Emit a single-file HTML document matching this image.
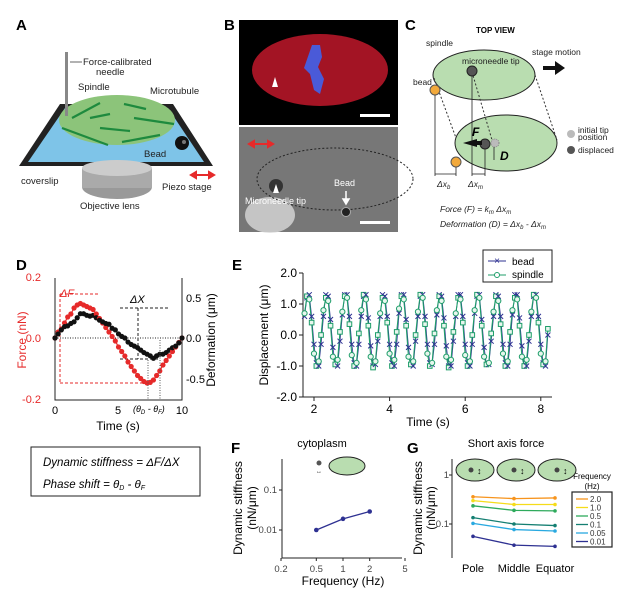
<!DOCTYPE html>
<html><head><meta charset="utf-8"><style>
html,body{margin:0;padding:0;background:#fff}
svg{display:block;font-family:"Liberation Sans",Arial,sans-serif}
</style></head><body>
<svg id="fig" width="627" height="592" viewBox="0 0 627 592" xmlns="http://www.w3.org/2000/svg">
<rect width="627" height="592" fill="#fff"/>
<!-- Panel A -->
<g>
<text x="16" y="30" font-size="15" font-weight="bold">A</text>
<polygon points="60,104 173,104 213,166 19,166" fill="#222"/>
<polygon points="65,108 168,108 204,162 28,162" fill="#7ec4e8"/>
<ellipse cx="117" cy="187" rx="35" ry="12" fill="#999"/>
<rect x="82" y="168" width="70" height="20" fill="#aaa"/>
<ellipse cx="117" cy="168" rx="35" ry="8" fill="#ccc"/>
<ellipse cx="117" cy="120" rx="58" ry="25" fill="#8cc47a"/>
<g stroke="#1e8a3e" stroke-width="2.2"><line x1="72" y1="118" x2="100" y2="103"/><line x1="90" y1="118" x2="110" y2="114"/><line x1="124" y1="104" x2="146" y2="109"/><line x1="134" y1="118" x2="174" y2="124"/><line x1="62" y1="128" x2="108" y2="145"/><line x1="100" y1="128" x2="130" y2="131"/><line x1="122" y1="142" x2="160" y2="135"/></g>
<circle cx="182" cy="143" r="7" fill="#111"/><circle cx="184" cy="142" r="2" fill="#777"/>
<rect x="65" y="52" width="3" height="64" fill="#888"/>
<g font-size="9.5" fill="#222"><text x="83" y="65">Force-calibrated</text><text x="96" y="75">needle</text><text x="78" y="90">Spindle</text><text x="150" y="94">Microtubule</text><text x="144" y="157">Bead</text><text x="21" y="184">coverslip</text><text x="162" y="190">Piezo stage</text><text x="80" y="209">Objective lens</text></g>
<line x1="70" y1="62" x2="82" y2="62" stroke="#222" stroke-width="0.7"/>
<path d="M193,175 L212,175 M191,175 l5,-3 v6z M214,175 l-5,-3 v6z" stroke="#e62a2a" stroke-width="2" fill="#e62a2a"/>
</g>
<!-- Panel B -->
<g>
<text x="224" y="30" font-size="15" font-weight="bold">B</text>
<rect x="239" y="20" width="159" height="105" fill="#000"/>
<ellipse cx="320" cy="70" rx="68" ry="36" fill="#c0182a" opacity="0.85"/>
<path d="M312,45 l8,0 l2,12 l-4,10 l6,12 l-4,15 l-6,-4 l-4,-16 l-6,-6z" fill="#4a5ad8"/>
<polygon points="272,87 278,87 275,77" fill="#fff"/>
<rect x="360" y="114" width="30" height="3" fill="#fff"/>
<rect x="239" y="127" width="159" height="105" fill="#777"/>
<ellipse cx="270" cy="215" rx="25" ry="18" fill="#d8d8d8" opacity="0.8"/>
<ellipse cx="335" cy="179" rx="78" ry="31" fill="none" stroke="#222" stroke-dasharray="2,2"/>
<circle cx="276" cy="186" r="7" fill="#333"/><polygon points="273,193 279,193 276,184" fill="#fff"/>
<circle cx="346" cy="212" r="4.5" fill="#222" stroke="#aaa"/>
<g font-size="9" fill="#fff"><text x="245" y="204">Microneedle tip</text><text x="334" y="186">Bead</text></g>
<path d="M346,191 v10 M343,199 l3,5 l3,-5z" stroke="#fff" fill="#fff" stroke-width="1.5"/>
<path d="M251,144 L271,144 M249,144 l5,-3 v6z M273,144 l-5,-3 v6z" stroke="#e62a2a" stroke-width="2" fill="#e62a2a"/>
<rect x="360" y="221" width="30" height="3" fill="#fff"/>
</g>
<!-- Panel C -->
<g>
<text x="405" y="30" font-size="15" font-weight="bold">C</text>
<text x="476" y="33" font-size="8" font-weight="bold">TOP VIEW</text>
<ellipse cx="484" cy="75" rx="51" ry="25" fill="#b9ddb0" stroke="#222"/>
<ellipse cx="506" cy="143" rx="51" ry="28" fill="#b9ddb0" stroke="#222"/>
<g stroke="#333" stroke-dasharray="2,2"><line x1="434" y1="78" x2="456" y2="138"/><line x1="535" y1="75" x2="557" y2="140"/><line x1="472" y1="72" x2="492" y2="140"/></g>
<circle cx="472" cy="71" r="5" fill="#555" stroke="#222"/>
<circle cx="435" cy="90" r="5" fill="#f2a93b" stroke="#555"/>
<circle cx="456" cy="162" r="5" fill="#f2a93b" stroke="#555"/>
<circle cx="485" cy="144" r="5" fill="#555" stroke="#222"/>
<circle cx="495" cy="143" r="4" fill="#bbb" stroke="#888" stroke-dasharray="1,1"/>
<g stroke="#222" stroke-width="0.8"><line x1="435" y1="95" x2="435" y2="176"/><line x1="456" y1="167" x2="456" y2="176"/><line x1="472" y1="76" x2="472" y2="176"/><line x1="485" y1="149" x2="485" y2="176"/><line x1="494" y1="147" x2="494" y2="160"/><line x1="435" y1="174" x2="456" y2="174"/><line x1="472" y1="174" x2="485" y2="174"/></g>
<path d="M463,143 l14,-4 v8z" fill="#111"/><rect x="470" y="141" width="12" height="4" fill="#111"/>
<path d="M543,66 h12 v-5 l10,7 l-10,7 v-5 h-12z" fill="#111"/>
<circle cx="571" cy="134" r="4" fill="#bbb"/><circle cx="571" cy="150" r="4" fill="#555"/>
<g font-size="8.5" fill="#222"><text x="426" y="46">spindle</text><text x="462" y="64">microneedle tip</text><text x="532" y="55">stage motion</text><text x="413" y="85">bead</text><text x="578" y="133">initial tip</text><text x="578" y="140">position</text><text x="578" y="153">displaced</text><text x="437" y="187" font-style="italic">Δx<tspan font-size="6" dy="2">b</tspan></text><text x="468" y="187" font-style="italic">Δx<tspan font-size="6" dy="2">m</tspan></text><text x="440" y="212" font-style="italic">Force (F) = k<tspan font-size="6" dy="2">m</tspan><tspan dy="-2"> Δx</tspan><tspan font-size="6" dy="2">m</tspan></text><text x="440" y="227" font-style="italic">Deformation (D) = Δx<tspan font-size="6" dy="2">b</tspan><tspan dy="-2"> - Δx</tspan><tspan font-size="6" dy="2">m</tspan></text></g>
<text x="472" y="136" font-size="12" font-weight="bold" font-style="italic">F</text>
<text x="500" y="160" font-size="12" font-weight="bold" font-style="italic">D</text>
</g>
<!-- Panel D -->
<g id="pd">
<text x="16" y="270" font-size="15" font-weight="bold">D</text>
<g font-size="11"><text x="41" y="281" fill="#e62a2a" text-anchor="end">0.2</text><text x="41" y="342" fill="#e62a2a" text-anchor="end">0.0</text><text x="41" y="403" fill="#e62a2a" text-anchor="end">-0.2</text>
<text x="186" y="302">0.5</text><text x="186" y="342">0.0</text><text x="186" y="383">-0.5</text>
<text x="55" y="414" text-anchor="middle">0</text><text x="118" y="414" text-anchor="middle">5</text><text x="182" y="414" text-anchor="middle">10</text>
<text x="118" y="430" text-anchor="middle" font-size="12">Time (s)</text>
<text transform="translate(26,340) rotate(-90)" text-anchor="middle" fill="#e62a2a" font-size="12">Force (nN)</text>
<text transform="translate(215,340) rotate(-90)" text-anchor="middle" font-size="12">Deformation (μm)</text>
<text x="60" y="297" fill="#e62a2a" font-style="italic">ΔF</text><text x="130" y="303" font-style="italic">ΔX</text>
<text x="133" y="412" font-size="9" font-style="italic">(θ<tspan font-size="6" dy="2">D</tspan><tspan dy="-2"> - θ</tspan><tspan font-size="6" dy="2">F</tspan><tspan dy="-2">)</tspan></text></g>
</g>
<g>
<rect x="31" y="447" width="169" height="49" fill="#fff" stroke="#222"/>
<text x="43" y="466" font-size="11.5" font-style="italic">Dynamic stiffness = ΔF/ΔX</text>
<text x="43" y="488" font-size="11.5" font-style="italic">Phase shift = θ<tspan font-size="7" dy="2">D</tspan><tspan dy="-2"> - θ</tspan><tspan font-size="7" dy="2">F</tspan></text>
</g>
<!-- Panel E -->
<g id="pe">
<text x="232" y="270" font-size="15" font-weight="bold">E</text>
<text transform="translate(268,335) rotate(-90)" text-anchor="middle" font-size="12">Displacement (μm)</text>
<text x="428" y="426" text-anchor="middle" font-size="12">Time (s)</text>
<g>
<rect x="483" y="250" width="69" height="32" fill="#fff" stroke="#222"/>
<line x1="488" y1="261" x2="506" y2="261" stroke="#2e3192"/><text x="497" y="264" font-size="10" fill="#2e3192" text-anchor="middle">×</text><text x="512" y="265" font-size="10">bead</text>
<line x1="488" y1="275" x2="506" y2="275" stroke="#1f9e6a"/><circle cx="497" cy="275" r="2.5" fill="#fff" stroke="#1f9e6a"/><text x="512" y="278" font-size="10">spindle</text>
</g>
</g>
<!-- Panel F -->
<g id="pf">
<text x="231" y="453" font-size="15" font-weight="bold">F</text>
<text x="322" y="447" font-size="11" text-anchor="middle">cytoplasm</text>
<ellipse cx="347" cy="466" rx="18" ry="9" fill="#b9ddb0" stroke="#222"/>
<circle cx="319" cy="463" r="2.5" fill="#555"/><text x="319" y="473" font-size="6" text-anchor="middle">↔</text>
<text transform="translate(242,508) rotate(-90)" text-anchor="middle" font-size="12">Dynamic stiffness</text>
<text transform="translate(256,508) rotate(-90)" text-anchor="middle" font-size="12">(nN/μm)</text>
<text x="343" y="585" text-anchor="middle" font-size="12">Frequency (Hz)</text>
</g>
<!-- Panel G -->
<g id="pg">
<text x="407" y="453" font-size="15" font-weight="bold">G</text>
<text x="506" y="447" font-size="11" text-anchor="middle">Short axis force</text>
<text transform="translate(422,508) rotate(-90)" text-anchor="middle" font-size="12">Dynamic stiffness</text>
<text transform="translate(435,508) rotate(-90)" text-anchor="middle" font-size="12">(nN/μm)</text>
<g><text x="592" y="479" font-size="8" text-anchor="middle">Frequency</text><text x="592" y="489" font-size="8" text-anchor="middle">(Hz)</text>
<rect x="572" y="492" width="40" height="55" fill="#fff" stroke="#222" stroke-width="1.2"/></g>
</g>
<script>
// Panel D data
var dTime=[0,0.25,0.5,0.75,1,1.25,1.5,1.75,2,2.25,2.5,2.75,3,3.25,3.5,3.75,4,4.25,4.5,4.75,5,5.25,5.5,5.75,6,6.25,6.5,6.75,7,7.25,7.5,7.75,8,8.25,8.5,8.75,9,9.25,9.5,9.75,10];
var dForce=[0,0.02,0.03,0.05,0.07,0.08,0.1,0.11,0.115,0.11,0.105,0.1,0.095,0.08,0.065,0.05,0.035,0.02,0.005,-0.01,-0.03,-0.045,-0.06,-0.08,-0.095,-0.11,-0.125,-0.135,-0.145,-0.15,-0.148,-0.14,-0.125,-0.11,-0.09,-0.075,-0.06,-0.045,-0.03,-0.015,0];
var dDeform=[0,0.05,0.1,0.14,0.15,0.18,0.2,0.25,0.3,0.3,0.28,0.27,0.28,0.25,0.22,0.2,0.18,0.17,0.12,0.1,0.05,0.02,0,-0.05,-0.08,-0.1,-0.12,-0.15,-0.18,-0.2,-0.22,-0.25,-0.22,-0.2,-0.2,-0.18,-0.15,-0.12,-0.1,-0.06,0];
// Panel E data
var eT0=1.75, eStep=0.0625;
var eSpindle=[0.7,1.25,1.15,0.4,-0.6,-1.0,-0.85,0.0, 0.8,1.2,1.1,0.3,-0.7,-0.95,-0.8,0.1, 0.75,1.25,1.2,0.35,-0.65,-1.0,-0.9,0.05, 0.8,1.3,1.15,0.3,-0.7,-1.05,-0.85,0.0, 0.7,1.2,1.1,0.4,-0.6,-1.0,-0.8,0.1, 0.85,1.25,1.15,0.3,-0.7,-0.95,-0.85,0.0, 0.75,1.3,1.2,0.35,-0.6,-1.0,-0.9,0.05, 0.8,1.25,1.1,0.3,-0.7,-1.05,-0.8,0.1, 0.7,1.2,1.15,0.4,-0.65,-1.0,-0.85,0.0, 0.8,1.3,1.2,0.3,-0.7,-0.95,-0.9,0.05, 0.75,1.25,1.1,0.35,-0.6,-1.0,-0.85,0.1, 0.8,1.2,1.15,0.3,-0.7,-1.0,-0.8,0.0, 0.75,1.3,1.2,0.4,-0.6,-0.95,-0.85,0.2];
var eBead=[0.6,1.2,1.3,0.6,-0.3,-0.9,-1.0,-0.3, 0.6,1.3,1.25,0.5,-0.4,-0.95,-1.0,-0.2, 0.65,1.3,1.3,0.6,-0.3,-0.9,-1.0,-0.3, 0.6,1.25,1.3,0.55,-0.35,-1.0,-0.95,-0.2, 0.6,1.3,1.25,0.6,-0.3,-0.9,-1.0,-0.3, 0.7,1.3,1.3,0.5,-0.4,-0.95,-1.0,-0.2, 0.6,1.25,1.3,0.6,-0.3,-0.9,-0.95,-0.3, 0.65,1.3,1.25,0.55,-0.35,-1.0,-1.0,-0.2, 0.6,1.3,1.3,0.6,-0.3,-0.9,-1.0,-0.3, 0.7,1.25,1.3,0.5,-0.4,-0.95,-0.95,-0.2, 0.6,1.3,1.25,0.6,-0.3,-0.9,-1.0,-0.3, 0.65,1.3,1.3,0.55,-0.35,-1.0,-1.0,-0.2, 0.6,1.25,1.3,0.6,-0.3,-0.9,-1.0,0.0];
var eXTicks=["2","4","6","8"];
var eYTicks=["2.0","1.0","0.0","-1.0","-2.0"];
// Panel F data
var fFreq=[0.5,1,2];
var fStiff=[0.01,0.019,0.029];
var fXTicks=["0.2","0.5","1","2","5"];
var fYTicks=["0.1","0.01"];
// Panel G data
var gCats=["Pole","Middle","Equator"];
var gFreqLabels=["2.0","1.0","0.5","0.1","0.05","0.01"];
var g20=[0.36,0.33,0.34];
var g10=[0.30,0.25,0.25];
var g05=[0.235,0.19,0.185];
var g01=[0.135,0.10,0.093];
var g005=[0.103,0.077,0.072];
var g001=[0.056,0.037,0.035];
var gYTicks=["1","0.1"];

var NS="http://www.w3.org/2000/svg";
var svg=document.getElementById('fig');
function mk(tag,attrs,parent){var e=document.createElementNS(NS,tag);for(var k in attrs)e.setAttribute(k,attrs[k]);(parent||svg).appendChild(e);return e;}
function pts(xs,ys,fx,fy){return xs.map(function(x,i){return fx(x)+','+fy(ys[i]);}).join(' ');}

// ---- D ----
var pd=document.getElementById('pd');
var dx=function(t){return 55+t*12.7;}, dyF=function(v){return 338-v*300;}, dyD=function(v){return 338-v*81;};
var a=mk('path',{d:'M55,278 V400 H182 V278',fill:'none',stroke:'#222'},pd);


mk('line',{x1:55,y1:338,x2:182,y2:338,stroke:'#222','stroke-dasharray':'1,1.5'},pd);
mk('path',{d:'M60,294 H100 M60,383 H150 M60,294 V383',stroke:'#e62a2a','stroke-dasharray':'3,2',fill:'none'},pd);
mk('path',{d:'M120,308 H168 M120,359 H160 M138,308 V359',stroke:'#222','stroke-dasharray':'3,2',fill:'none'},pd);
var fl=mk('polyline',{points:pts(dTime,dForce,dx,dyF),fill:'none',stroke:'#e62a2a','stroke-width':1.2},pd);


var dl=mk('polyline',{points:pts(dTime,dDeform,dx,dyD),fill:'none',stroke:'#111','stroke-width':1.2},pd);


dTime.forEach(function(t,i){
 var c=mk('circle',{cx:dx(t),cy:dyF(dForce[i]),r:2.6,fill:'#e62a2a'},pd);
 
 
 var c2=mk('circle',{cx:dx(t),cy:dyD(dDeform[i]),r:2.6,fill:'#111'},pd);
 
 
});
mk('path',{d:'M148,360 V400 M160,340 V400',stroke:'#555','stroke-dasharray':'1,1.5'},pd);

// ---- E ----
var pe=document.getElementById('pe');
var ex=function(t){return 314+(t-2)*37.8;}, ey=function(v){return 335-v*31;};
var ea=mk('path',{d:'M303,273 V397 H552',fill:'none',stroke:'#222'},pe);


eXTicks.forEach(function(l){var t=parseFloat(l);mk('line',{x1:ex(t),y1:397,x2:ex(t),y2:401,stroke:'#222'},pe);var tx=mk('text',{x:ex(t),y:413,'font-size':12,'text-anchor':'middle'},pe);tx.textContent=l;});
eYTicks.forEach(function(l){var v=parseFloat(l);mk('line',{x1:299,y1:ey(v),x2:303,y2:ey(v),stroke:'#222'},pe);var tx=mk('text',{x:297,y:ey(v)+4,'font-size':12,'text-anchor':'end'},pe);tx.textContent=l;});
var eTimes=eSpindle.map(function(_,i){return eT0+i*eStep;});
var bl=mk('polyline',{points:pts(eTimes,eBead,ex,ey),fill:'none',stroke:'#2e3192','stroke-width':0.8},pe);


var sl=mk('polyline',{points:pts(eTimes,eSpindle,ex,ey),fill:'none',stroke:'#1f9e6a','stroke-width':1.1},pe);


eTimes.forEach(function(t,i){
 var x=ex(t),yb=ey(eBead[i]);
 var m=mk('path',{d:'M'+(x-2.5)+','+(yb-2.5)+' l5,5 M'+(x+2.5)+','+(yb-2.5)+' l-5,5',stroke:'#2e3192','stroke-width':1},pe);
 
 
 var ys=ey(eSpindle[i]);
 var s=(i%2)?mk('rect',{x:x-2.3,y:ys-2.3,width:4.6,height:4.6,fill:'#e8f6ee',stroke:'#1f9e6a'},pe):mk('circle',{cx:x,cy:ys,r:2.6,fill:'#e8f6ee',stroke:'#1f9e6a'},pe);
 
 
});

// ---- F ----
var pf=document.getElementById('pf');
var fx=function(f){return 281+(Math.log10(f)-Math.log10(0.2))*(124/Math.log10(25));}, fy=function(v){return 530-(Math.log10(v)+2)*40;};
var fa=mk('path',{d:'M282,459 V558 H402',fill:'none',stroke:'#222'},pf);


fXTicks.forEach(function(l){var v=parseFloat(l);mk('line',{x1:fx(v),y1:558,x2:fx(v),y2:561,stroke:'#222'},pf);var t=mk('text',{x:fx(v),y:572,'font-size':9.5,'text-anchor':'middle',fill:'#444'},pf);t.textContent=l;});
fYTicks.forEach(function(l){var v=parseFloat(l);mk('line',{x1:279,y1:fy(v),x2:282,y2:fy(v),stroke:'#222'},pf);var t=mk('text',{x:277,y:fy(v)+3,'font-size':9.5,'text-anchor':'end',fill:'#444'},pf);t.textContent=l;});
var fl2=mk('polyline',{points:pts(fFreq,fStiff,fx,fy),fill:'none',stroke:'#2e3192','stroke-width':1.3},pf);


fFreq.forEach(function(f,i){var c=mk('circle',{cx:fx(f),cy:fy(fStiff[i]),r:2.3,fill:'#2e3192'},pf);});

// ---- G ----
var pg=document.getElementById('pg');
var gx=function(i){return 473+i*41;}, gy=function(v){return 524-(Math.log10(v)+1)*49;};
var ga=mk('path',{d:'M452,459 V558',fill:'none',stroke:'#222'},pg);


gYTicks.forEach(function(l){var v=parseFloat(l);mk('line',{x1:449,y1:gy(v),x2:452,y2:gy(v),stroke:'#222'},pg);var t=mk('text',{x:449,y:gy(v)+3,'font-size':9.5,'text-anchor':'end',fill:'#444'},pg);t.textContent=l;});
gCats.forEach(function(c,i){var t=mk('text',{x:gx(i),y:572,'font-size':11,'text-anchor':'middle'},pg);t.textContent=c;
 var e=mk('ellipse',{cx:gx(i)+2,cy:470,rx:19,ry:11,fill:'#b9ddb0',stroke:'#222'},pg);
 mk('circle',{cx:gx(i)-2+i*2,cy:470,r:2.5,fill:'#444'},pg);var ar=mk('text',{x:gx(i)+4+i*2,y:474,'font-size':9},pg);ar.textContent='↕';});
var gSeries=[g20,g10,g05,g01,g005,g001];
var gColors=['#f7941d','#f5dc1a','#2eaa5c','#157f72','#29a9e0','#2e3192'];
gSeries.forEach(function(s,k){
 var l=mk('polyline',{points:s.map(function(v,i){return gx(i)+','+gy(v);}).join(' '),fill:'none',stroke:gColors[k],'stroke-width':1.3},pg);
 
 
 s.forEach(function(v,i){var c=mk('circle',{cx:gx(i),cy:gy(v),r:1.8,fill:gColors[k]},pg);});
 var y=499+k*8.5;
 mk('line',{x1:576,y1:y,x2:588,y2:y,stroke:gColors[k],'stroke-width':1.3},pg);
 var t=mk('text',{x:590,y:y+3,'font-size':8,fill:'#333'},pg);t.textContent=gFreqLabels[k];
 
 
});
</script>
</svg>
</body></html>
